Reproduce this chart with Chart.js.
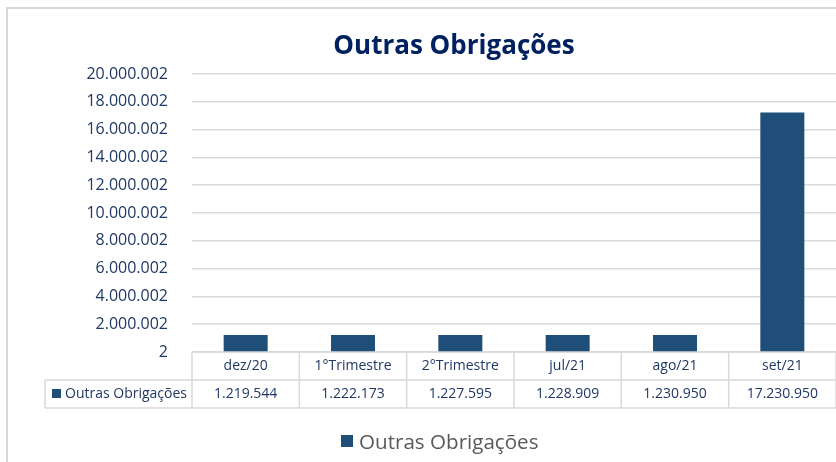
<!DOCTYPE html>
<html>
<head>
<meta charset="utf-8">
<script src="https://cdn.jsdelivr.net/npm/chart.js@4.4.0/dist/chart.umd.min.js"></script>
<style>
  html, body { margin: 0; padding: 0; background: #fff; }
  #wrap { width: 836px; height: 462px; }
</style>
</head>
<body>
<div id="wrap"><canvas id="myChart"></canvas></div>
<script>
var categories = ["dez/20", "1°Trimestre", "2°Trimestre", "jul/21", "ago/21", "set/21"];
var seriesName = "Outras Obrigações";
var values = [1219544, 1222173, 1227595, 1228909, 1230950, 17230950];
var yTicks = [2, 2000002, 4000002, 6000002, 8000002, 10000002, 12000002, 14000002, 16000002, 18000002, 20000002];

var FONT = "'Open Sans', 'Noto Sans', sans-serif";
var NAVY = "#1F3864";
var GRID = "#d9d9d9";
var BAR = "#1F4E79";

function fmt(v) {
  return String(v).replace(/\B(?=(\d{3})+(?!\d))/g, ".");
}

// frame, title, data table and legend (Excel layout, centred on the uncropped chart)
var tablePlugin = {
  id: "dataTable",
  beforeDraw: function(chart) {
    var ctx = chart.ctx;
    ctx.save();
    ctx.strokeStyle = GRID;
    ctx.lineWidth = 2;
    ctx.beginPath();
    ctx.moveTo(7, 462);
    ctx.lineTo(7, 8);
    ctx.lineTo(836, 8);
    ctx.stroke();
    ctx.restore();
  },
  afterDraw: function(chart) {
    var ctx = chart.ctx;
    var x = chart.scales.x;
    var area = chart.chartArea;
    var top = area.bottom;
    var rowH = 28;
    var catW = (area.right - area.left) / categories.length;
    var legendLeft = 45;
    ctx.save();

    // title
    ctx.fillStyle = "#002060";
    ctx.font = "bold 26px " + FONT;
    ctx.textAlign = "center";
    ctx.textBaseline = "alphabetic";
    ctx.fillText(seriesName, 454, 54);

    // table grid
    ctx.strokeStyle = GRID;
    ctx.lineWidth = 1.5;
    ctx.beginPath();
    ctx.moveTo(area.left, top);
    ctx.lineTo(area.right, top);
    ctx.moveTo(legendLeft, top + rowH);
    ctx.lineTo(area.right, top + rowH);
    ctx.moveTo(legendLeft, top + rowH * 2);
    ctx.lineTo(area.right, top + rowH * 2);
    ctx.moveTo(legendLeft, top + rowH);
    ctx.lineTo(legendLeft, top + rowH * 2);
    for (var i = 0; i <= categories.length; i++) {
      var lx = area.left + i * catW;
      ctx.moveTo(lx, top);
      ctx.lineTo(lx, top + rowH * 2);
    }
    ctx.stroke();

    ctx.fillStyle = NAVY;
    ctx.font = "14px " + FONT;
    ctx.textAlign = "center";
    ctx.textBaseline = "middle";
    for (var j = 0; j < categories.length; j++) {
      var cx = x.getPixelForValue(j);
      ctx.fillText(categories[j], cx, top + rowH / 2);
      ctx.fillText(fmt(values[j]), cx, top + rowH * 1.5);
    }
    ctx.fillStyle = BAR;
    ctx.fillRect(52, top + rowH * 1.5 - 5, 9, 9);
    ctx.fillStyle = NAVY;
    ctx.textAlign = "left";
    ctx.fillText(seriesName, 65, top + rowH * 1.5);

    // legend
    ctx.fillStyle = BAR;
    ctx.fillRect(341, 435, 12, 12);
    ctx.fillStyle = "#595959";
    ctx.font = "20.6px " + FONT;
    ctx.textBaseline = "alphabetic";
    ctx.fillText(seriesName, 359, 449);
    ctx.restore();
  }
};

var ctx = document.getElementById("myChart").getContext("2d");
var myChart = new Chart(ctx, {
  type: "bar",
  data: {
    labels: categories,
    datasets: [{
      label: seriesName,
      data: values,
      backgroundColor: BAR,
      categoryPercentage: 1,
      barPercentage: 0.41
    }]
  },
  options: {
    responsive: true,
    maintainAspectRatio: false,
    animation: false,
    layout: { padding: { left: 0, right: 0, top: 74, bottom: 0 } },
    plugins: {
      title: { display: false },
      legend: { display: false },
      tooltip: { enabled: false }
    },
    scales: {
      x: {
        grid: { display: false, drawTicks: false },
        border: { display: false },
        ticks: { display: false },
        afterFit: function(scale) { scale.height = 110; }
      },
      y: {
        min: 2,
        max: 20000002,
        border: { display: false },
        grid: { color: GRID, lineWidth: 1.5, drawTicks: false },
        afterBuildTicks: function(scale) {
          scale.ticks = yTicks.map(function(v) { return { value: v }; });
        },
        afterFit: function(scale) { scale.width = 192; },
        ticks: {
          color: NAVY,
          padding: 24,
          font: { family: FONT, size: 16 },
          callback: function(v) { return fmt(v); }
        }
      }
    }
  },
  plugins: [tablePlugin]
});
</script>
</body>
</html>
